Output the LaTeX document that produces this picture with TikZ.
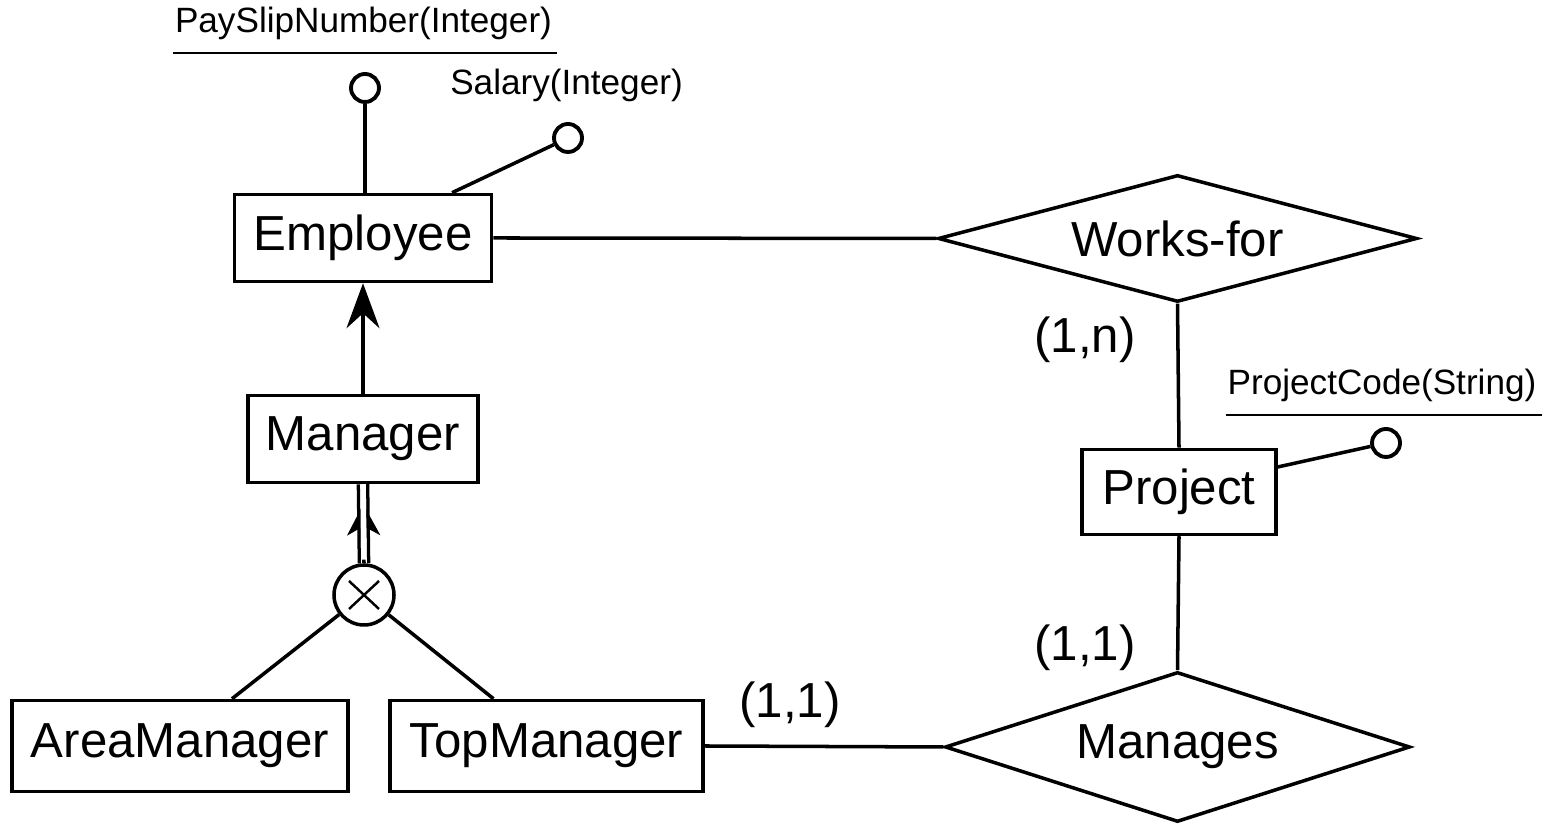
\documentclass[tikz,border=0pt]{standalone}
\usepackage{fontspec}
\setmainfont{Liberation Sans}
\usetikzlibrary{arrows.meta,shapes.geometric}

\begin{document}
\begin{tikzpicture}[line width=1pt,
		entity/.style={draw,rectangle,inner sep=0pt,font=\fontsize{14}{16}\selectfont},
		relation/.style={draw,diamond,inner sep=0pt,font=\fontsize{14}{16}\selectfont},
		attr/.style={draw,circle,inner sep=0pt,minimum size=0.28cm,line width=1.1pt},
		attrlabel/.style={inner sep=0pt,font=\fontsize{10}{12}\selectfont},
		card/.style={inner sep=0pt,font=\fontsize{14}{16}\selectfont}]

  \useasboundingbox (0,0) rectangle (15.48,8.24);

  % entities and relationships
  \node[entity,minimum width=2.57cm,minimum height=0.87cm] (emp) at (3.63,5.86) {Employee};
  \node[entity,minimum width=2.30cm,minimum height=0.87cm] (mgr) at (3.63,3.85) {Manager};
  \node[entity,minimum width=3.36cm,minimum height=0.91cm] (am) at (1.80,0.78) {AreaManager};
  \node[entity,minimum width=3.13cm,minimum height=0.91cm] (tm) at (5.465,0.78) {TopManager};
  \node[entity,minimum width=1.94cm,minimum height=0.85cm] (proj) at (11.79,3.32) {Project};
  \node[relation,shape aspect=3.77,minimum width=4.79cm,minimum height=1.27cm] (works) at (11.775,5.855) {Works-for};
  \node[relation,shape aspect=3.1,minimum width=4.65cm,minimum height=1.50cm] (manages) at (11.775,0.77) {Manages};

  % generalization
  \node[draw,circle,inner sep=0pt,minimum size=0.60cm] (xc) at (3.64,2.29) {};
  \draw[line width=0.7pt] (xc.center) +(-0.15,-0.14) -- +(0.15,0.14);
  \draw[line width=0.7pt] (xc.center) +(-0.15,0.14) -- +(0.15,-0.14);

  % attributes
  \node[attr] (psnc) at (3.65,7.36) {};
  \node[attr] (salc) at (5.68,6.86) {};
  \node[attr] (pcc) at (13.86,3.81) {};
  \node[attrlabel] (psn) at (3.635,8.01) {PaySlipNumber(Integer)};
  \node[attrlabel] (sal) at (5.665,7.39) {Salary(Integer)};
  \node[attrlabel] (pc) at (13.82,4.39) {ProjectCode(String)};
  \draw[line width=0.8pt] ([yshift=-3.4pt]psn.south west) -- ([yshift=-3.4pt,xshift=1pt]psn.south east);
  \draw[line width=0.8pt] ([yshift=-3.4pt]pc.south west) -- ([yshift=-3.4pt,xshift=1pt]pc.south east);

  % cardinalities
  \node[card] (c1) at (10.85,4.84) {(1,n)};
  \node[card] (c2) at (10.85,1.76) {(1,1)};
  \node[card] (c3) at (7.90,1.19) {(1,1)};

  \draw (psnc) -- (psnc |- emp.north);
  \draw (salc) -- ([xshift=0.89cm]emp.north);
  \draw (pcc) -- ([yshift=0.25cm]proj.east);
  \draw (emp.east) -- (works.west);
  \draw (works.south) -- (proj.north);
  \draw (proj.south) -- (manages.north);
  \draw (tm.east) -- (manages.west);
  \draw[-{Stealth[length=0.45cm,width=0.33cm,inset=0.15cm]}] (mgr.north) -- (emp.south);
  \draw[double,double distance=1.6pt] (xc.north) -- (mgr.south);
  \draw[-{Stealth[length=0.31cm,width=0.33cm,inset=0.09cm]},shorten >=0.2cm] (xc.north) -- (mgr.south);
  \draw[white,line width=1.6pt,shorten <=1pt] (xc.north) -- (mgr.south);
  \draw (xc) -- ([xshift=0.52cm]am.north);
  \draw (xc) -- ([xshift=-0.53cm]tm.north);

\end{tikzpicture}
\end{document}
